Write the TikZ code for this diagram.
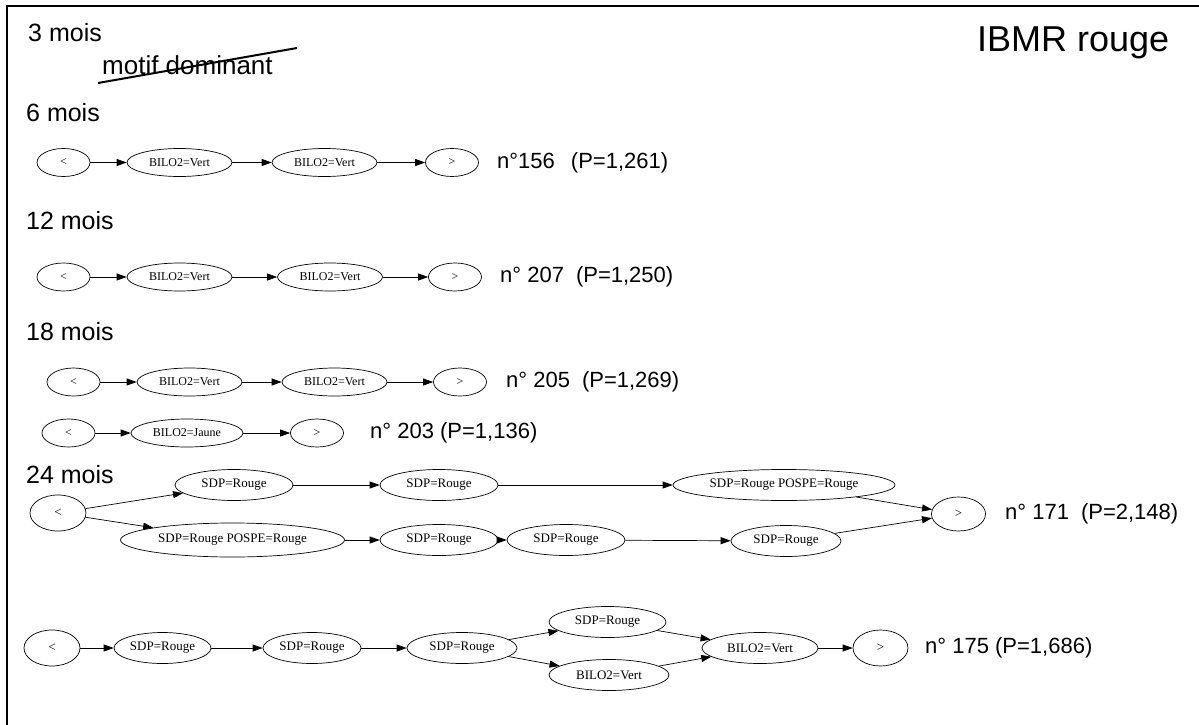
\documentclass[tikz,border=0pt]{standalone}
\usepackage{fontspec}
\setmainfont{Liberation Serif}
\newfontfamily\arialf{Liberation Sans}
\usetikzlibrary{shapes.geometric,arrows.meta}
\begin{document}
\begin{tikzpicture}[x=1pt,y=-1pt,
  el/.style={draw, ellipse, line width=0.7pt, inner sep=0pt, font=\rmfamily\fontsize{12}{14}\selectfont, minimum height=28pt},
  elb/.style={el, font=\rmfamily\fontsize{13}{15}\selectfont, minimum height=31pt},
  heading/.style={anchor=west, inner sep=0pt, font=\arialf\fontsize{25}{28}\selectfont},
  lab/.style={anchor=west, inner sep=0pt, font=\arialf\fontsize{22}{26}\selectfont},
  arr/.style={-{Triangle[length=10pt,width=7pt]}, line width=0.7pt}]
\useasboundingbox (0,0) rectangle (1199,725);
\fill[white] (0,0) rectangle (1199,725);
\draw[line width=2.5pt] (7,725) -- (7,6) -- (1199,6);

% headings
\node[heading] (h3) at (28,33) {3 mois};
\node[heading, font=\arialf\fontsize{26}{28}\selectfont] (md) at (102,65) {motif dominant};
\draw[line width=2pt] (98,83) -- (297,48);
\node[heading] (h6) at (26,113) {6 mois};
\node[heading] (h12) at (26,221) {12 mois};
\node[heading] (h18) at (26,332) {18 mois};
\node[heading] (h24) at (26,475) {24 mois};
\node[anchor=west, inner sep=0pt, font=\arialf\fontsize{36}{40}\selectfont] (title) at (977,43) {IBMR rouge};

% 6 mois
\node[el, minimum width=53pt] (a1) at (63.5,162.5) {<};
\node[el, minimum width=105pt] (a2) at (179.5,162.5) {BILO2=Vert};
\node[el, minimum width=105pt] (a3) at (324.5,162.5) {BILO2=Vert};
\node[el, minimum width=53pt] (a4) at (452,162.5) {>};
\draw[arr] (a1) -- (a2);
\draw[arr] (a2) -- (a3);
\draw[arr] (a3) -- (a4);
\node[lab] (la) at (497,162.5) {n°156\hspace{16pt}(P=1,261)};

% 12 mois
\node[el, minimum width=53pt] (b1) at (63.5,277) {<};
\node[el, minimum width=105pt] (b2) at (179.5,277) {BILO2=Vert};
\node[el, minimum width=105pt] (b3) at (330,277) {BILO2=Vert};
\node[el, minimum width=53pt] (b4) at (455,277) {>};
\draw[arr] (b1) -- (b2);
\draw[arr] (b2) -- (b3);
\draw[arr] (b3) -- (b4);
\node[lab] (lb) at (500,277) {n° 207\hspace{12pt}(P=1,250)};

% 18 mois
\node[el, minimum width=53pt] (c1) at (73.5,382) {<};
\node[el, minimum width=105pt] (c2) at (189.5,382) {BILO2=Vert};
\node[el, minimum width=105pt] (c3) at (334.5,382) {BILO2=Vert};
\node[el, minimum width=53pt] (c4) at (460,382) {>};
\draw[arr] (c1) -- (c2);
\draw[arr] (c2) -- (c3);
\draw[arr] (c3) -- (c4);
\node[lab] (lc) at (506,382) {n° 205\hspace{12pt}(P=1,269)};

\node[el, minimum width=53pt] (d1) at (68.5,433) {<};
\node[el, minimum width=112pt] (d2) at (187,433) {BILO2=Jaune};
\node[el, minimum width=53pt] (d3) at (317,433) {>};
\draw[arr] (d1) -- (d2);
\draw[arr] (d2) -- (d3);
\node[lab] (ld) at (370,433) {n° 203 (P=1,136)};

% 24 mois, graph 1
\node[elb, minimum width=56pt, minimum height=36pt] (e0) at (58,513) {<};
\node[elb, minimum width=118pt] (t1) at (234,485) {SDP=Rouge};
\node[elb, minimum width=118pt] (t2) at (439,485) {SDP=Rouge};
\node[elb, minimum width=222pt] (t3) at (784,485) {SDP=Rouge POSPE=Rouge};
\node[elb, minimum width=224pt, minimum height=34pt] (u1) at (232.5,540) {SDP=Rouge POSPE=Rouge};
\node[elb, minimum width=118pt] (u2) at (439,540) {SDP=Rouge};
\node[elb, minimum width=118pt] (u3) at (566,540) {SDP=Rouge};
\node[elb, minimum width=110pt] (u4) at (786,541) {SDP=Rouge};
\node[elb, minimum width=54pt, minimum height=34pt] (e9) at (958.5,514) {>};
\draw[arr] (e0) -- (t1);
\draw[arr] (e0) -- (u1);
\draw[arr] (t1) -- (t2);
\draw[arr] (t2) -- (t3);
\draw[arr] (u1) -- (u2);
\draw[arr] (u2) -- (u3);
\draw[arr] (u3) -- (u4);
\draw[arr] (t3) -- (e9);
\draw[arr] (u4) -- (e9);
\node[lab] (le) at (1005,514) {n° 171\hspace{12pt}(P=2,148)};

% 24 mois, graph 2
\node[elb, minimum width=56pt, minimum height=36pt] (f0) at (52,648) {<};
\node[elb, minimum width=97pt] (f1) at (162.5,648) {SDP=Rouge};
\node[elb, minimum width=98pt] (f2) at (312,648) {SDP=Rouge};
\node[elb, minimum width=110pt] (f3) at (462,648) {SDP=Rouge};
\node[elb, minimum width=117pt] (f4) at (607.5,622) {SDP=Rouge};
\node[elb, minimum width=120pt] (f5) at (609,675) {BILO2=Vert};
\node[elb, minimum width=116pt] (f6) at (760,648) {BILO2=Vert};
\node[elb, minimum width=55pt, minimum height=36pt] (f7) at (880.5,648) {>};
\draw[arr] (f0) -- (f1);
\draw[arr] (f1) -- (f2);
\draw[arr] (f2) -- (f3);
\draw[arr] (f3) -- (f4);
\draw[arr] (f3) -- (f5);
\draw[arr] (f4) -- (f6);
\draw[arr] (f5) -- (f6);
\draw[arr] (f6) -- (f7);
\node[lab] (lf) at (925,648) {n° 175 (P=1,686)};
\end{tikzpicture}
\end{document}
